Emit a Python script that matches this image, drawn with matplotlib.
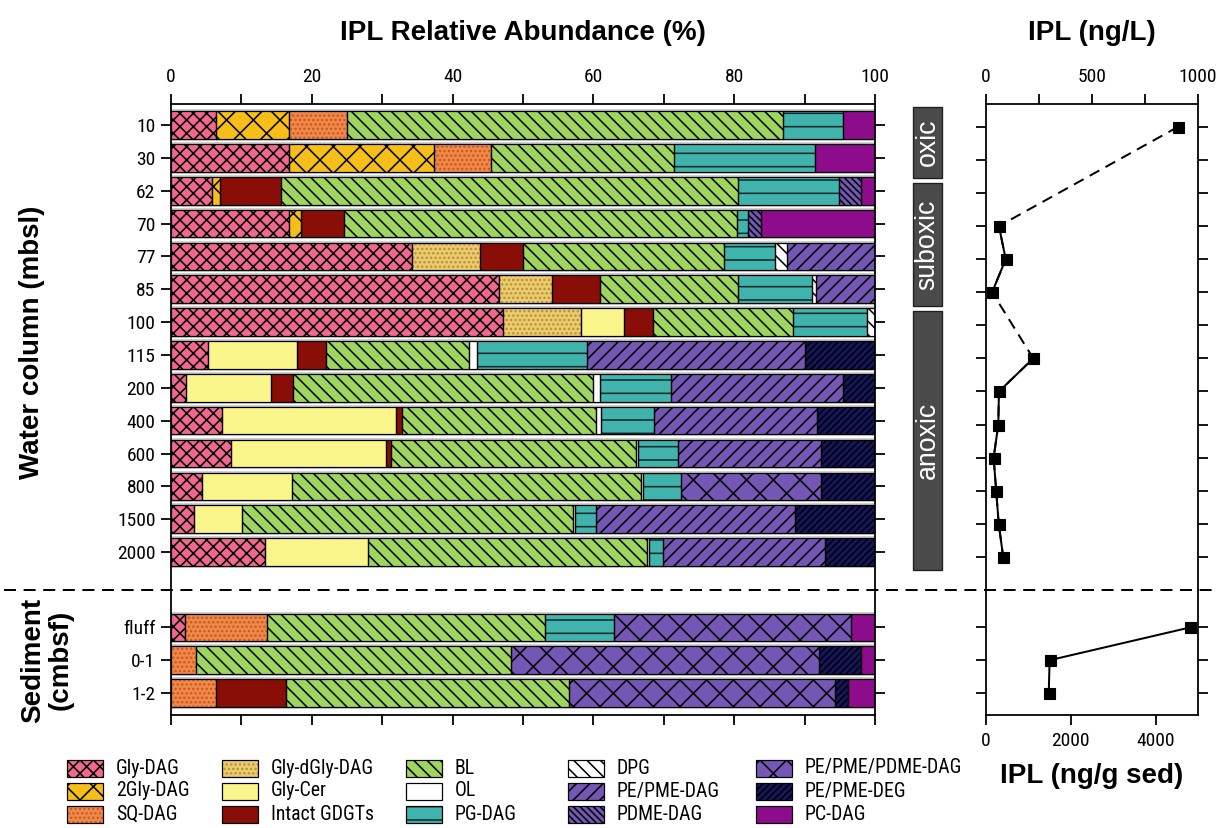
import numpy as np
import matplotlib
matplotlib.use("Agg")
import matplotlib.pyplot as plt
import matplotlib.transforms as mtransforms
from matplotlib.patches import Rectangle
from matplotlib import font_manager

# ---------------------------------------------------------------- data
water_depths = ["10", "30", "62", "70", "77", "85", "100", "115",
                "200", "400", "600", "800", "1500", "2000"]
sediment_depths = ["fluff", "0-1", "1-2"]

# IPL relative abundance (%): 14 water-column rows, then 3 sediment rows
gly_dag      = [6.4, 16.8, 5.8, 16.8, 34.3, 46.6, 47.1, 5.2, 2.1, 7.2, 8.5, 4.4, 3.3, 13.4, 2.0, 0, 0]
gly2_dag     = [10.4, 20.5, 1.2, 1.7, 0, 0, 0, 0, 0, 0, 0, 0, 0, 0, 0, 0, 0]
sq_dag       = [8.2, 8.1, 0, 0, 0, 0, 0, 0, 0, 0, 0, 0, 0, 0, 11.7, 3.5, 6.4]
gly_dgly_dag = [0, 0, 0, 0, 9.6, 7.5, 11.1, 0, 0, 0, 0, 0, 0, 0, 0, 0, 0]
gly_cer      = [0, 0, 0, 0, 0, 0, 6.1, 12.7, 12.1, 24.7, 22.1, 12.8, 6.8, 14.6, 0, 0, 0]
intact_gdgt  = [0, 0, 8.6, 6.1, 6.1, 6.9, 4.2, 4.1, 3.2, 0.9, 0.6, 0, 0, 0, 0, 0, 9.9]
bl           = [61.9, 26.1, 65.0, 55.8, 28.5, 19.6, 19.8, 20.4, 42.5, 27.6, 34.9, 49.6, 47.0, 39.6, 39.4, 44.8, 40.3]
ol           = [0, 0, 0, 0, 0, 0, 0, 1.1, 1.0, 0.7, 0.3, 0.3, 0.3, 0.3, 0, 0, 0]
pg_dag       = [8.5, 20.0, 14.3, 1.6, 7.3, 10.4, 10.6, 15.6, 10.1, 7.5, 5.6, 5.4, 2.9, 2.0, 9.8, 0, 0]
dpg          = [0, 0, 0, 0, 1.7, 0.6, 1.1, 0, 0, 0, 0, 0, 0, 0, 0, 0, 0]
pe_pme_dag   = [0, 0, 0, 0, 12.5, 8.4, 0, 30.9, 24.4, 23.1, 20.3, 0, 28.3, 23.0, 0, 0, 0]
pdme_dag     = [0, 0, 3.1, 1.8, 0, 0, 0, 0, 0, 0, 0, 0, 0, 0, 0, 0, 0]
pe_pme_pdme  = [0, 0, 0, 0, 0, 0, 0, 0, 0, 0, 0, 19.8, 0, 0, 33.7, 43.7, 37.7]
pe_pme_deg   = [0, 0, 0, 0, 0, 0, 0, 10.0, 4.6, 8.3, 7.7, 7.7, 11.4, 7.1, 0, 6.0, 1.8]
pc_dag       = [4.6, 8.5, 2.0, 16.2, 0, 0, 0, 0, 0, 0, 0, 0, 0, 0, 3.4, 2.0, 3.9]

# total IPL concentration
ipl_water_ngL = [906, np.nan, np.nan, 61, 93, 29, np.nan, 223, 61, 58, 36, 48, 60, 81]
ipl_sed_ngg = [4817, 1500, 1480]

zones = ["oxic", "suboxic", "anoxic"]
zone_spans = [(-0.6, 1.55), (1.7, 5.42), (5.57, 13.4)]   # in water-column row units

# ---------------------------------------------------------------- styles
# (label, values, face colour, hatch, hatch colour)
classes = [
    ("Gly-DAG", gly_dag, "#F0688E", "xx", "black"),
    ("2Gly-DAG", gly2_dag, "#F5BE18", "x", "black"),
    ("SQ-DAG", sq_dag, "#F0884A", "...", "#C8581E"),
    ("Gly-dGly-DAG", gly_dgly_dag, "#EBCB70", "...", "#B8902E"),
    ("Gly-Cer", gly_cer, "#FAF58A", "", "black"),
    ("Intact GDGTs", intact_gdgt, "#8A0E08", "", "black"),
    ("BL", bl, "#9ED55E", "\\\\", "black"),
    ("OL", ol, "#FFFFFF", "", "black"),
    ("PG-DAG", pg_dag, "#40B4AC", "-", "#102828"),
    ("DPG", dpg, "#FFFFFF", "\\\\", "black"),
    ("PE/PME-DAG", pe_pme_dag, "#7456B4", "//", "black"),
    ("PDME-DAG", pdme_dag, "#7456B4", "\\\\\\\\", "black"),
    ("PE/PME/PDME-DAG", pe_pme_pdme, "#7456B4", "x", "black"),
    ("PE/PME-DEG", pe_pme_deg, "#16165E", "////", "black"),
    ("PC-DAG", pc_dag, "#8C0C8C", "", "black"),
]

W_PX, H_PX, DPI = 1218, 828, 80
PT = 72.0 / DPI          # points per pixel

avail = {f.name for f in font_manager.fontManager.ttflist}
NARROW = next((n for n in ("Liberation Sans Narrow", "Roboto Condensed", "Archivo Narrow")
               if n in avail), "Liberation Sans")

plt.rcParams["font.family"] = ["Liberation Sans", "DejaVu Sans"]
plt.rcParams["hatch.linewidth"] = 1.4
plt.rcParams["axes.linewidth"] = 1.6

fig = plt.figure(figsize=(W_PX / DPI, H_PX / DPI), dpi=DPI)


def frac_rect(x0, y0, x1, y1):
    """pixel box (top-left origin) -> figure fraction rect"""
    return [x0 / W_PX, 1 - y1 / H_PX, (x1 - x0) / W_PX, (y1 - y0) / H_PX]


SPLIT_Y = 590
L_X0, L_X1 = 171, 875
R_X0, R_X1 = 986, 1198
TOP_Y, BOT_Y = 104, 715

ax_wc = fig.add_axes(frac_rect(L_X0, TOP_Y, L_X1, SPLIT_Y))
ax_sed = fig.add_axes(frac_rect(L_X0, SPLIT_Y, L_X1, BOT_Y))
ax_rw = fig.add_axes(frac_rect(R_X0, TOP_Y, R_X1, SPLIT_Y))
ax_rs = fig.add_axes(frac_rect(R_X0, SPLIT_Y, R_X1, BOT_Y))

n_w = len(water_depths)
n_s = len(sediment_depths)
WC_YLIM = (14.155, -0.64)
SED_YLIM = (2.67, -1.14)
BAR_H = 0.84

tick_fs = 17.5
tick_kw = dict(length=10 * PT, width=1.6, direction="out")


def draw_stack(ax, row_idx):
    y = np.arange(len(row_idx))
    left = np.zeros(len(row_idx))
    ax.barh(y, np.full(len(y), 100.0), height=BAR_H, fill=False,
            edgecolor="#c4c4c4", linewidth=3.2, zorder=1)
    for _, values, face, hatch, hcol in classes:
        vals = np.asarray(values, dtype=float)[row_idx]
        keep = vals > 0
        if keep.any():
            ax.barh(y[keep], vals[keep], left=left[keep], height=BAR_H,
                    color=face, edgecolor=hcol, hatch=hatch, linewidth=0, zorder=2)
            ax.barh(y[keep], vals[keep], left=left[keep], height=BAR_H,
                    fill=False, edgecolor="black", linewidth=1.1, zorder=3)
        left += vals


draw_stack(ax_wc, np.arange(n_w))
draw_stack(ax_sed, np.arange(n_w, n_w + n_s))

for ax, labels, ylim in ((ax_wc, water_depths, WC_YLIM), (ax_sed, sediment_depths, SED_YLIM)):
    ax.set_xlim(0, 100)
    ax.set_ylim(*ylim)
    ax.set_yticks(np.arange(len(labels)))
    ax.set_yticklabels(labels, fontsize=tick_fs, family=NARROW)
    ax.tick_params(axis="y", which="both", left=True, right=True, pad=5, **tick_kw)

ax_wc.spines["bottom"].set_visible(False)
ax_wc.xaxis.tick_top()
ax_wc.set_xticks(np.arange(0, 101, 20))
ax_wc.set_xticks(np.arange(10, 100, 20), minor=True)
ax_wc.tick_params(axis="x", which="both", pad=7, labelsize=tick_fs, **tick_kw)
for t in ax_wc.get_xticklabels():
    t.set_family(NARROW)

ax_sed.spines["top"].set_visible(False)
ax_sed.set_xticks(np.arange(0, 101, 10))
ax_sed.tick_params(axis="x", which="both", labelbottom=False, **tick_kw)

# ---------------------------------------------------------------- concentration profiles
yw = np.arange(n_w)
cw = np.asarray(ipl_water_ngL, dtype=float)
ok = ~np.isnan(cw)
ax_rw.plot(cw[ok], yw[ok], color="black", lw=1.8, ls=(0, (5.5, 3.5)), zorder=2)
ax_rw.plot(cw, yw, color="black", lw=1.8, marker="s", ms=11 * PT, zorder=3)
ax_rw.set_xlim(0, 1000)
ax_rw.set_ylim(14.0, -0.69)
ax_rw.xaxis.tick_top()
ax_rw.set_xticks([0, 500, 1000])
ax_rw.set_xticks([250, 750], minor=True)
ax_rw.set_xticklabels(["0", "500", "1000"], family=NARROW)
ax_rw.spines["bottom"].set_visible(False)
ax_rw.set_yticks(yw)
ax_rw.set_yticklabels([])
ax_rw.tick_params(axis="x", which="both", pad=7, labelsize=tick_fs, **tick_kw)
ax_rw.tick_params(axis="y", which="both", left=True, right=True, **tick_kw)

ys = np.arange(n_s)
ax_rs.plot(ipl_sed_ngg, ys, color="black", lw=1.8, marker="s", ms=11 * PT)
ax_rs.set_xlim(0, 5000)
ax_rs.set_ylim(*SED_YLIM)
ax_rs.set_xticks([0, 2000, 4000])
ax_rs.set_xticklabels(["0", "2000", "4000"], family=NARROW)
ax_rs.spines["top"].set_visible(False)
ax_rs.set_yticks(ys)
ax_rs.set_yticklabels([])
ax_rs.tick_params(axis="x", which="both", pad=6, labelsize=tick_fs, **tick_kw)
ax_rs.tick_params(axis="y", which="both", left=True, right=True, **tick_kw)

# ---------------------------------------------------------------- redox zone boxes
zone_tr = mtransforms.blended_transform_factory(fig.transFigure, ax_rw.transData)
bx0, bx1 = 913 / W_PX, 942 / W_PX
for name, (y0, y1) in zip(zones, zone_spans):
    ax_rw.add_patch(Rectangle((bx0, y0), bx1 - bx0, y1 - y0, transform=zone_tr,
                              facecolor="#4a4a4a", edgecolor="#1e1e1e", lw=1.2,
                              clip_on=False, zorder=1))
    ax_rw.text((bx0 + bx1) / 2, (y0 + y1) / 2, name, transform=zone_tr,
               rotation=90, ha="center", va="center", color="white",
               fontsize=24, clip_on=False)

# ---------------------------------------------------------------- overlay: titles, separator, legend
lay = fig.add_axes([0, 0, 1, 1], zorder=5)
lay.set_xlim(0, W_PX)
lay.set_ylim(H_PX, 0)
lay.axis("off")

title_kw = dict(fontsize=25, fontweight="bold", ha="center", va="center")
lay.text((L_X0 + L_X1) / 2, 33, "IPL Relative Abundance (%)", **title_kw)
lay.text((R_X0 + R_X1) / 2, 33, "IPL (ng/L)", **title_kw)
lay.text((R_X0 + R_X1) / 2, 776, "IPL (ng/g sed)", **title_kw)
lay.text(32, 342, "Water column (mbsl)", rotation=90, **title_kw)
lay.text(47, 660, "Sediment\n(cmbsf)", rotation=90, linespacing=1.05, **title_kw)

lay.plot([4, 1215], [SPLIT_Y, SPLIT_Y], color="black", lw=1.8, ls=(0, (6, 3.8)))

leg_cols_x = [67, 222, 406, 568, 756]
leg_rows_y = [768, 791, 814]
PW, PH = 36, 17
for i, (label, _, face, hatch, hcol) in enumerate(classes):
    c, r = divmod(i, 3)
    x0, yc = leg_cols_x[c], leg_rows_y[r]
    lay.add_patch(Rectangle((x0, yc - PH / 2), PW, PH, facecolor=face, edgecolor=hcol,
                            hatch=hatch, lw=0))
    lay.add_patch(Rectangle((x0, yc - PH / 2), PW, PH, fill=False, edgecolor="black", lw=1.1))
    lay.text(x0 + 49, yc, label, ha="left", va="center", family=NARROW, fontsize=17.8)

fig.savefig("out.png", dpi=DPI)
